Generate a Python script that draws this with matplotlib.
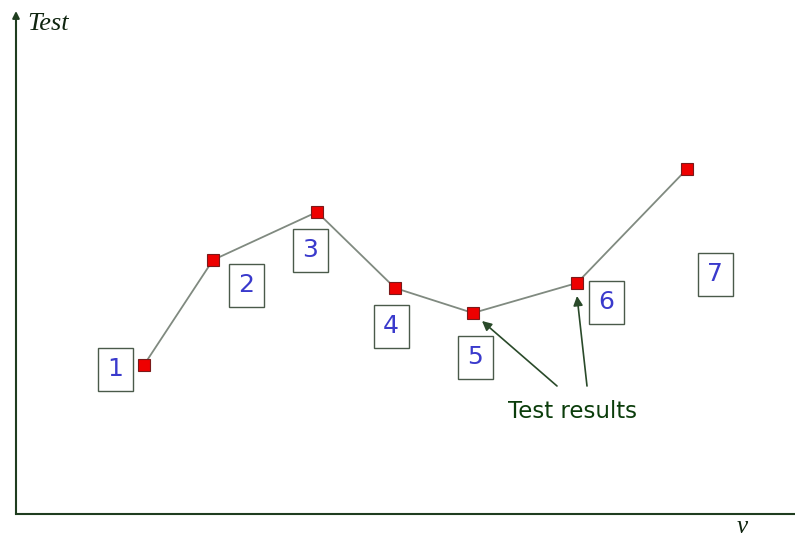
import matplotlib.pyplot as plt
from matplotlib.patches import Rectangle

# test number, position along v, test value
labels = ["1", "2", "3", "4", "5", "6", "7"]
v_values = [128, 197, 301, 379, 457, 561, 671]
test_values = [149, 254, 302, 226, 201, 231, 345]

# where the numbered boxes sit
box_x = [99, 230, 294, 375, 459, 590, 699]
box_y = [145, 229, 264, 188, 157, 212, 240]

axis_color = "#1f3d1f"

fig = plt.figure(figsize=(7.95, 5.39), dpi=100)
ax = fig.add_axes([0, 0, 1, 1])
ax.set_xlim(-16, 779)
ax.set_ylim(-25, 514)
ax.axis("off")

# axes drawn by hand
ax.plot([0, 779], [0, 0], color=axis_color, lw=1.5)
ax.annotate("", xy=(0, 503), xytext=(0, 0),
            arrowprops=dict(arrowstyle="-|>", color=axis_color, lw=1.5,
                            mutation_scale=10, shrinkA=0, shrinkB=0))
ax.text(11, 490, "Test", fontsize=19, style="italic",
        family="Liberation Serif", color="#102510", va="center", ha="left")
ax.text(726, -13, "v", fontsize=18, style="italic",
        family="Liberation Serif", color="#102510", va="center", ha="center")

# the polyline of results
ax.plot(v_values, test_values, color="#808a80", lw=1.3, zorder=2)
ax.plot(v_values, test_values, linestyle="none",
        marker="s", markersize=8, markerfacecolor="#ee0000",
        markeredgecolor="#7a1a1a", markeredgewidth=0.8, zorder=3)

for lab, bx, by in zip(labels, box_x, box_y):
    ax.add_patch(Rectangle((bx - 17.5, by - 21.5), 35, 43, facecolor="white",
                           edgecolor="#4a5a4a", lw=1.0, zorder=2))
    ax.text(bx, by, lab, fontsize=18, color="#3a3acc",
            ha="center", va="center", zorder=4)

# annotation
ax.text(556, 102, "Test results", fontsize=16.5, color="#0b3d0b",
        ha="center", va="center")
for tail, head in [((541, 128), (v_values[4] + 9, test_values[4] - 8)),
                   ((571, 128), (v_values[5], test_values[5] - 13))]:
    ax.annotate("", xy=head, xytext=tail,
                arrowprops=dict(arrowstyle="-|>", color="#2a4a2a", lw=1.2,
                                mutation_scale=14, shrinkA=0, shrinkB=0))

fig.savefig("out.png", dpi=100)
